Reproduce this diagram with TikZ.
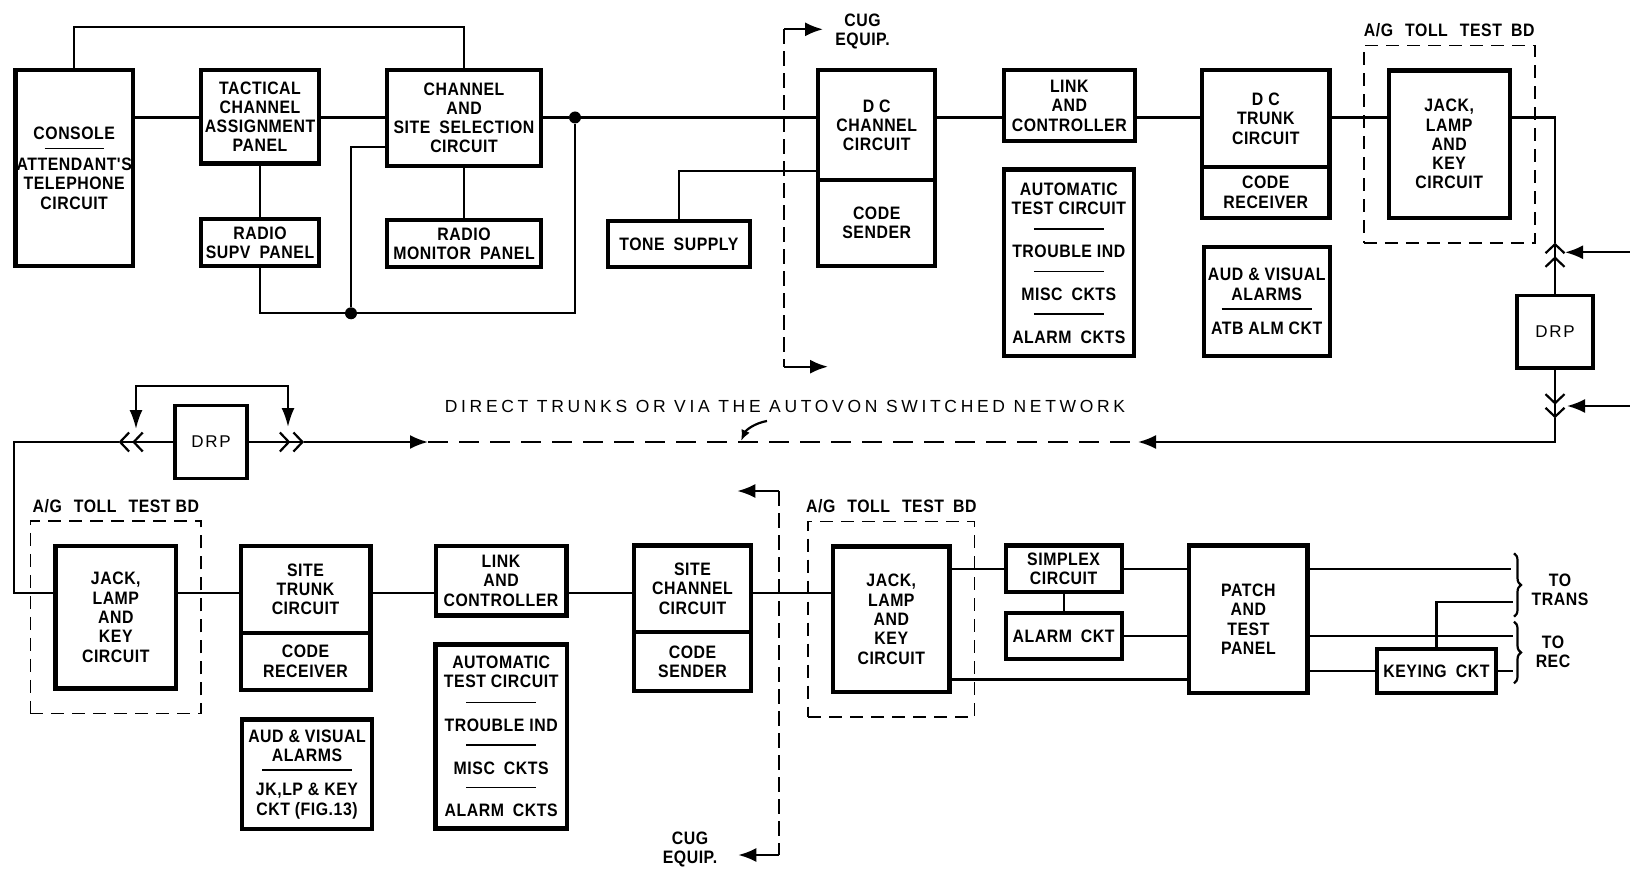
\documentclass[tikz,border=0pt]{standalone}
\usepackage{fontspec}
\usepackage{tikz}
\newfontfamily\kastenfont[FakeStretch=0.88,LetterSpace=3]{Liberation Sans}
\newfontfamily\netzfont[LetterSpace=21]{Liberation Sans}
\newfontfamily\drpfont[LetterSpace=10]{Liberation Sans}
\usetikzlibrary{arrows.meta, positioning, fit, decorations.pathreplacing}

\begin{document}
\begin{tikzpicture}[x=1pt, y=-1pt,
    >={Latex[length=18pt,width=14pt]}, % Pfeilspitzen
    blk/.style={draw, line width=4.2pt, outer sep=0pt, inner sep=0pt, align=center,
      font=\kastenfont\bfseries\fontsize{18}{19.3}\selectfont},
    drp/.style={blk, line width=3.8pt, font=\drpfont\fontsize{17}{19}\selectfont},
    txt/.style={inner sep=0pt, align=center, font=\kastenfont\bfseries\fontsize{18}{19}\selectfont},
    wire/.style={line width=2.2pt},
    knoten/.style={circle, fill, inner sep=0pt, minimum size=12pt},
    tollbd/.style={draw, dash pattern=on 13pt off 8pt, line width=1.8pt, inner sep=25pt},
    cugline/.style={wire, dash pattern=on 15pt off 7pt},
    netline/.style={line width=2.8pt, dash pattern=on 20pt off 11pt},
    dbl/.style={wire, -{Straight Barb[length=9pt,width=19pt,sep=2pt]Straight Barb[length=9pt,width=19pt]}}]
  \useasboundingbox (0,0) rectangle (1630,869);

  % Kaesten oben
  \node[blk, minimum width=117.5, minimum height=196.4] (console) at (74.2,168)
    {CONSOLE\\[-4pt]\rule[5pt]{59pt}{1.6pt}\\[-3pt]ATTENDANT'S\\TELEPHONE\\CIRCUIT};
  \node[blk, minimum width=117.8, minimum height=93.8] (tact) at (260,116.7) {TACTICAL\\CHANNEL\\ASSIGNMENT\\PANEL};
  \node[blk, minimum width=117.8, minimum height=46.8] (supv) at (260,242.5) {RADIO\\SUPV\enspace PANEL};
  \node[blk, minimum width=154.6, minimum height=96.1] (chsel) at (464,117.85) {CHANNEL\\AND\\SITE\enspace SELECTION\\CIRCUIT};
  \node[blk, minimum width=154.6, minimum height=46.8] (monitor) at (464,243.5) {RADIO\\MONITOR\enspace PANEL};
  \node[blk, minimum width=141.5, minimum height=45.8] (tone) at (678.85,244.3) {TONE\enspace SUPPLY};
  \node[blk, minimum width=117.1, minimum height=109.6] (dcch) at (876.7,125.2) {D C\\CHANNEL\\CIRCUIT};
  \node[blk, minimum width=117.1, minimum height=86.2, below=0pt of dcch] (codesnd) {CODE\\SENDER};
  \node[blk, minimum width=131.3, minimum height=70.8] (link1) at (1069.3,105.8) {LINK\\AND\\CONTROLLER};
  \node[blk, minimum width=130.3, minimum height=186.6] (atc1) at (1068.8,262.9)
    {AUTOMATIC\\TEST CIRCUIT\\[1pt]\rule[5pt]{70pt}{1.6pt}\\[4pt]TROUBLE IND\\\rule[5pt]{70pt}{1.6pt}\\[4pt]MISC\enspace CKTS\\\rule[5pt]{70pt}{1.6pt}\\[4pt]ALARM\enspace CKTS};
  \node[blk, minimum width=127.5, minimum height=96.3] (dctrk) at (1265.8,118.55) {D C\\TRUNK\\CIRCUIT};
  \node[blk, minimum width=127.5, minimum height=51.2, below=0pt of dctrk] (coderec1) {CODE\\RECEIVER};
  \node[blk, minimum width=125.8, minimum height=109.1] (aud1) at (1266.7,301.7)
    {AUD \& VISUAL\\ALARMS\\[-5pt]\rule[5pt]{90pt}{1.6pt}\\[1pt]ATB ALM CKT};
  \node[blk, minimum width=120.8, minimum height=147.5] (jack1) at (1449.2,144.2) {JACK,\\LAMP\\AND\\KEY\\CIRCUIT};
  \node[drp, minimum width=75.8, minimum height=72.5] (drp1) at (1555,331.7) {DRP};

  % Kaesten unten
  \node[drp, minimum width=72.4, minimum height=73.1] (drp2) at (211,442) {DRP};
  \node[blk, minimum width=120.8, minimum height=142.5] (jack2) at (115.8,617.3) {JACK,\\LAMP\\AND\\KEY\\CIRCUIT};
  \node[blk, minimum width=129.8, minimum height=86.6] (sitetrk) at (305.5,589.4) {SITE\\TRUNK\\CIRCUIT};
  \node[blk, minimum width=129.8, minimum height=57.2, below=0pt of sitetrk] (coderec2) {CODE\\RECEIVER};
  \node[blk, minimum width=129.8, minimum height=109.5] (aud2) at (307,774.2)
    {AUD \& VISUAL\\ALARMS\\[-5pt]\rule[5pt]{90pt}{1.6pt}\\[1pt]JK,LP \& KEY\\CKT (FIG.13)};
  \node[blk, minimum width=130.8, minimum height=69.5] (link2) at (501,580.8) {LINK\\AND\\CONTROLLER};
  \node[blk, minimum width=131.3, minimum height=184] (atc2) at (501.2,736.4)
    {AUTOMATIC\\TEST CIRCUIT\\[1pt]\rule[5pt]{70pt}{1.6pt}\\[4pt]TROUBLE IND\\\rule[5pt]{70pt}{1.6pt}\\[4pt]MISC\enspace CKTS\\\rule[5pt]{70pt}{1.6pt}\\[4pt]ALARM\enspace CKTS};
  \node[blk, minimum width=117.4, minimum height=86.3] (sitech) at (692.5,588.55) {SITE\\CHANNEL\\CIRCUIT};
  \node[blk, minimum width=117.4, minimum height=59.5, below=0pt of sitech] (codesnd2) {CODE\\SENDER};
  \node[blk, minimum width=116.5, minimum height=145.8] (jack3) at (891.3,619.3) {JACK,\\LAMP\\AND\\KEY\\CIRCUIT};
  \node[blk, minimum width=116, minimum height=46.5] (simplex) at (1063.6,568.7) {SIMPLEX\\CIRCUIT};
  \node[blk, minimum width=116, minimum height=45.8] (alarm) at (1063.6,636) {ALARM\enspace CKT};
  \node[blk, minimum width=118.2, minimum height=147.5] (patch) at (1248.4,619.2) {PATCH\\AND\\TEST\\PANEL};
  \node[blk, minimum width=119.5, minimum height=44.1] (keying) at (1436.4,670.9) {KEYING\enspace CKT};

  % Pruefbretter
  \node[tollbd, fit=(jack1)] (tb1) {};
  \node[txt, above=7pt of tb1] (tbl1) {A/G\hspace{12pt}TOLL\hspace{12pt}TEST\enspace BD};
  \node[tollbd, fit=(jack2)] (tb2) {};
  \node[txt, above=7pt of tb2] (tbl2) {A/G\hspace{12pt}TOLL\hspace{12pt}TEST BD};
  \node[tollbd, fit=(jack3)] (tb3) {};
  \node[txt, above=7pt of tb3] (tbl3) {A/G\hspace{12pt}TOLL\hspace{12pt}TEST\enspace BD};

  % Hilfspunkte
  \coordinate (topbus) at (0,26.7);
  \coordinate (bus1) at (0,117.5);
  \coordinate (selbus) at (0,147.3);
  \coordinate (tonebus) at (0,170.7);
  \coordinate (bus2) at (0,593);
  \coordinate (bus3) at (0,679.5);
  \node[knoten] (dot1) at (575,117.5) {};
  \node[knoten] (dot2) at (351,313.3) {};

  % Leitungen oben
  \draw[wire] (console.north) |- (topbus -| chsel.north) -- (chsel.north);
  \draw[wire] (console.east |- bus1) -- (tact.west |- bus1);
  \draw[wire] (tact.east |- bus1) -- (chsel.west |- bus1);
  \draw[wire] (chsel.east |- bus1) -- (dot1) -- (dcch.west |- bus1);
  \draw[wire] (tact.south) -- (supv.north);
  \draw[wire] (chsel.south) -- (monitor.north);
  \draw[wire] (supv.south) |- (dot2) -| (dot1);
  \draw[wire] (dot2) |- (chsel.west |- selbus);
  \draw[wire] (tone.north) |- (dcch.west |- tonebus);
  \draw[wire] (dcch.east |- bus1) -- (link1.west |- bus1);
  \draw[wire] (link1.east |- bus1) -- (dctrk.west |- bus1);
  \draw[wire] (dctrk.east |- bus1) -- (jack1.west |- bus1);

  % DRP rechts
  \coordinate (upTip) at (1555,242.7);
  \coordinate (dnTip) at (1555,418.3);
  \coordinate (inA) at (1630,252.3);
  \coordinate (inAtip) at (1565,252.3);
  \coordinate (inB) at (1630,406);
  \coordinate (inBtip) at (1567,406);
  \draw[wire] (jack1.east |- bus1) -| (upTip);
  \draw[dbl] (drp1.north) -- (upTip);
  \draw[dbl] (drp1.south) -- (dnTip);
  \draw[wire, ->] (inA) -- (inAtip);
  \draw[wire, ->] (inB) -- (inBtip);

  % Netz
  \coordinate (netL) at (428,442);
  \coordinate (netR) at (1138,442);
  \draw[wire, ->] (dnTip) |- (netR);
  \draw[netline] (netL) -- (netR);
  \node[inner sep=0pt, font=\netzfont\fontsize{17.5}{19}\selectfont] (netlbl) at (785,406)
    {DIRECT TRUNKS OR VIA THE AUTOVON SWITCHED NETWORK};
  \coordinate (ptrS) at (767,421);
  \coordinate (ptrE) at (741,441);
  \draw[wire, -{Latex[length=11pt,width=9pt]}] (ptrS) .. controls (755,423) and (746,430) .. (ptrE);

  % DRP links
  \coordinate (chevL) at (118.6,442);
  \coordinate (chevR) at (304,442);
  \coordinate (lft) at (14,442);
  \coordinate (brkL) at (136,429);
  \coordinate (brkR) at (288,427);
  \coordinate (brkTop) at (212,386);
  \draw[dbl] (drp2.west) -- (chevL);
  \draw[wire] (chevL) -- (lft) |- (jack2.west |- bus2);
  \draw[dbl] (drp2.east) -- (chevR);
  \draw[wire, ->] (chevR) -- (netL);
  \draw[wire, {Latex[length=19pt,width=13pt]}-{Latex[length=19pt,width=13pt]}] (brkL) |- (brkTop) -| (brkR);

  % Leitungen unten
  \draw[wire] (jack2.east |- bus2) -- (sitetrk.west |- bus2);
  \draw[wire] (sitetrk.east |- bus2) -- (link2.west |- bus2);
  \draw[wire] (link2.east |- bus2) -- (sitech.west |- bus2);
  \draw[wire] (sitech.east |- bus2) -- (jack3.west |- bus2);
  \draw[wire] (jack3.east |- simplex.west) -- (simplex.west);
  \draw[wire] (jack3.east |- bus3) -- (patch.west |- bus3);
  \draw[wire] (simplex.south) -- (alarm.north);
  \draw[wire] (simplex.east) -- (patch.west |- simplex.east);
  \draw[wire] (alarm.east) -- (patch.west |- alarm.east);

  % Sender / Empfaenger
  \coordinate (trA) at (1511,568.7);
  \coordinate (trB) at (1513,601.7);
  \coordinate (rcA) at (1513,636);
  \coordinate (rcB) at (1513,670.9);
  \draw[wire] (patch.east |- trA) -- (trA);
  \draw[wire] (keying.north) |- (trB);
  \draw[wire] (patch.east |- rcA) -- (rcA);
  \draw[wire] (patch.east |- keying.west) -- (keying.west);
  \draw[wire] (keying.east) -- (rcB);
  \coordinate (brA1) at (1514,553.3);
  \coordinate (brA2) at (1514,616.7);
  \coordinate (brB1) at (1514,621.7);
  \coordinate (brB2) at (1514,683.3);
  \draw[wire, decorate, decoration={brace, amplitude=7pt}] (brA1) -- (brA2);
  \draw[wire, decorate, decoration={brace, amplitude=7pt}] (brB1) -- (brB2);
  \node[txt] (totrans) at (1560,590) {TO\\TRANS};
  \node[txt] (torec) at (1553,652) {TO\\REC};

  % CUG
  \coordinate (cugA) at (784.3,29.3);
  \coordinate (cugAtip) at (823,29.3);
  \coordinate (cugB) at (784.3,366.7);
  \coordinate (cugBtip) at (828,366.7);
  \draw[cugline] (cugA) -- (cugB);
  \draw[wire, ->] (cugA) -- (cugAtip);
  \draw[wire, ->] (cugB) -- (cugBtip);
  \node[txt] (cugtop) at (862.5,31) {CUG\\EQUIP.};
  \coordinate (cugC) at (779.3,491);
  \coordinate (cugCtip) at (737.3,491);
  \coordinate (cugD) at (779.3,855);
  \coordinate (cugDtip) at (738.3,855);
  \draw[cugline] (cugC) -- (cugD);
  \draw[wire, ->] (cugC) -- (cugCtip);
  \draw[wire, ->] (cugD) -- (cugDtip);
  \node[txt] (cugbot) at (690,849) {CUG\\EQUIP.};
\end{tikzpicture}
\end{document}
